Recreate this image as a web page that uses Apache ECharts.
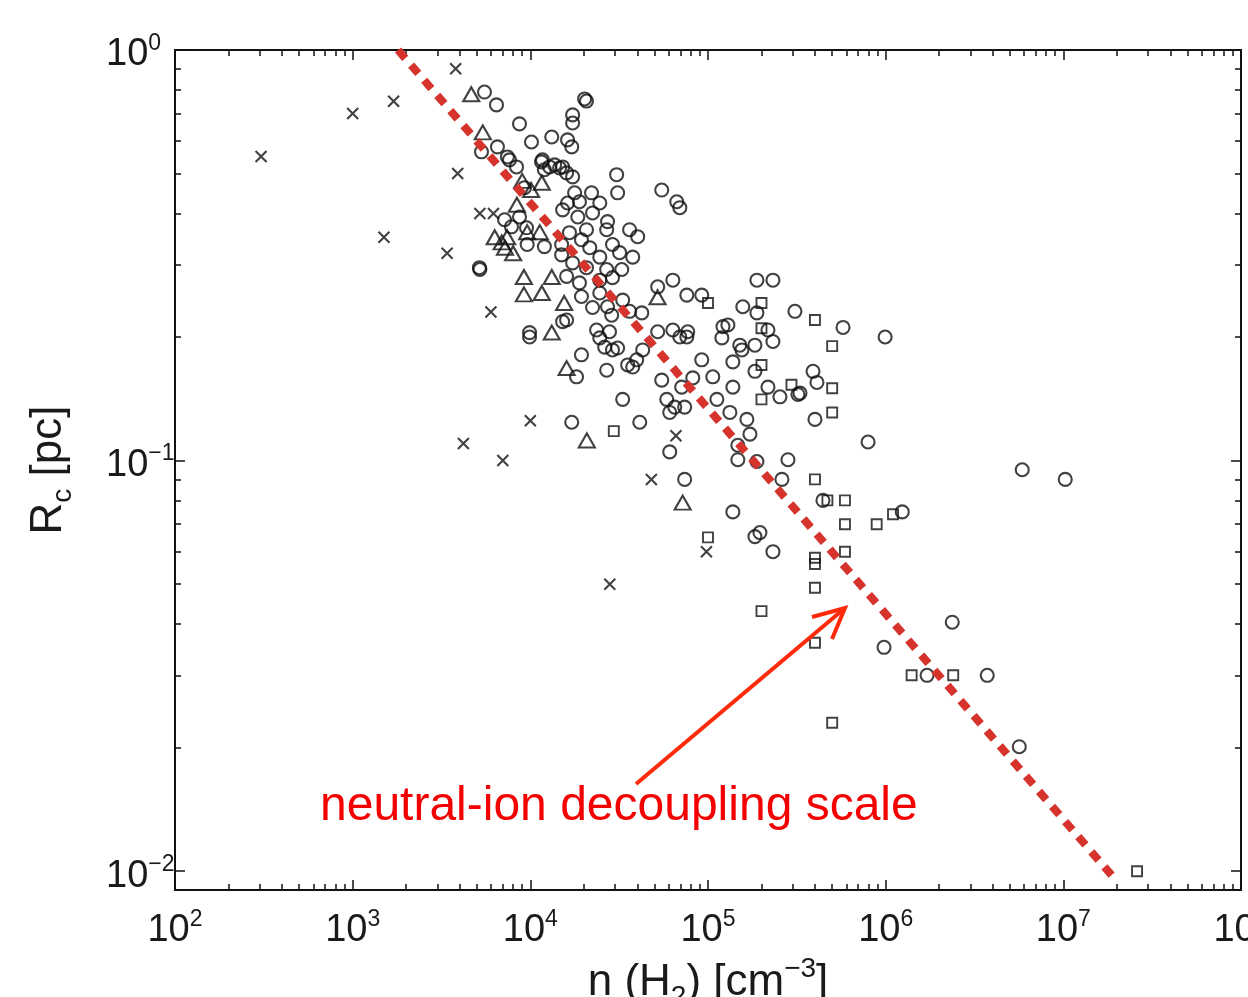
<!DOCTYPE html>
<html><head><meta charset="utf-8">
<script src="https://cdn.jsdelivr.net/npm/echarts@6.0.0/dist/echarts.min.js"></script>
<style>html,body{margin:0;padding:0;background:#fff}#c{width:1248px;height:997px}</style>
</head><body><div id="c"></div>
<script>
// ---- data (n(H2) [cm^-3], Rc [pc]) ----
const circles = [
[5520,0.790],[6450,0.735],[20200,0.760],[20700,0.751],[8690,0.661],[17300,0.695],[17300,0.664],
[10150,0.597],[13200,0.614],[16200,0.604],[17100,0.581],[5310,0.565],[6530,0.581],[7630,0.540],
[11700,0.540],[13700,0.525],[15200,0.519],[17300,0.491],[30600,0.497],[31000,0.449],[54900,0.456],
[66700,0.427],[69400,0.413],[17750,0.449],[22100,0.449],[24600,0.424],[16200,0.424],[18900,0.427],
[15200,0.408],[18500,0.392],[22400,0.401],[27200,0.382],[26900,0.365],[36200,0.365],[40200,0.351],
[29000,0.336],[20700,0.365],[16600,0.359],[19400,0.345],[15000,0.336],[9600,0.336],[12000,0.332],
[21600,0.330],[24600,0.313],[37700,0.313],[31800,0.321],[15000,0.317],[17300,0.303],[20700,0.295],
[26900,0.292],[32700,0.292],[16000,0.281],[18900,0.271],[24600,0.275],[29000,0.279],[19400,0.251],
[24600,0.256],[27200,0.237],[22400,0.236],[28700,0.226],[33100,0.246],[27900,0.206],[23600,0.208],
[9900,0.205],[16000,0.220],[36200,0.231],[42400,0.229],[52100,0.265],[63400,0.275],[76000,0.253],
[92200,0.253],[188500,0.275],[232000,0.275],[157000,0.237],[308500,0.231],[76900,0.206],[63400,0.208],
[52100,0.206],[5170,0.295],[5200,0.292],[9270,0.462],[8360,0.519],[7160,0.386],[7830,0.371],
[8690,0.392],[9520,0.369],[11560,0.534],[12830,0.519],[14610,0.516],[16000,0.502],[12000,0.511],
[7430,0.549],[9900,0.200],[15200,0.218],[19400,0.181],[18200,0.160],[24600,0.199],[26200,0.189],
[29000,0.186],[31000,0.188],[26900,0.166],[35300,0.171],[37700,0.169],[39700,0.176],[42900,0.186],
[54900,0.157],[58600,0.141],[60900,0.131],[65000,0.135],[71100,0.151],[73900,0.135],[69400,0.200],
[76000,0.200],[92200,0.176],[82100,0.159],[106400,0.160],[112200,0.141],[138000,0.151],[132800,0.131],
[165500,0.126],[172200,0.116],[147200,0.109],[147200,0.1005],[188500,0.0995],[281900,0.1005],
[260700,0.090],[138000,0.075],[183700,0.0653],[196000,0.0668],[232000,0.060],[73900,0.090],
[60900,0.105],[41300,0.124],[33100,0.141],[17100,0.124],[138000,0.174],[151000,0.191],[183700,0.191],
[155200,0.186],[188500,0.229],[121400,0.212],[129400,0.214],[119700,0.199],[217500,0.208],
[232000,0.195],[390000,0.165],[410400,0.155],[254000,0.143],[320700,0.145],[400000,0.126],
[575400,0.211],[183700,0.165],[217500,0.151],[993000,0.200],[329400,0.146],[796000,0.111],
[5870000,0.095],[10250000,0.090],[443600,0.080],[1240000,0.075],[2370000,0.0404],[979000,0.0351],
[3730000,0.030],[5650000,0.0201],[1710000,0.030]
];
const triangles = [
[4650,0.78],[5400,0.63],[11600,0.475],[10100,0.456],[6300,0.35],[7400,0.35],[7200,0.33],
[9600,0.36],[11300,0.36],[9200,0.28],[13200,0.28],[9200,0.254],[11600,0.256],[15500,0.242],
[13200,0.205],[16000,0.168],[20800,0.112],[72000,0.079],[52000,0.25],[8000,0.32],[6900,0.34],
[8400,0.42],[9000,0.48]
];
const squares = [
[200000,0.242],[200000,0.21],[400000,0.22],[500000,0.19],[200000,0.171],[200000,0.141],
[295000,0.153],[500000,0.15],[500000,0.131],[100000,0.242],[29500,0.118],[400000,0.09],
[590000,0.08],[470000,0.08],[590000,0.07],[890000,0.07],[1100000,0.074],[590000,0.06],
[400000,0.058],[400000,0.056],[400000,0.049],[200000,0.043],[400000,0.036],[100000,0.065],
[500000,0.023],[1400000,0.030],[2400000,0.030],[26000000,0.010]
];
const crosses = [
[305,0.55],[1000,0.70],[1700,0.75],[3800,0.90],[3900,0.50],[1500,0.35],[3400,0.32],[5200,0.40],
[6200,0.40],[6000,0.23],[4200,0.11],[7000,0.10],[10000,0.125],[28000,0.050],[48000,0.090],
[66000,0.115],[98000,0.060]
];
const decouplingLine = [[1800,1.0],[19000000,0.0097]];
const xMajor = [1e2,1e3,1e4,1e5,1e6,1e7,1e8];
const yMajor = [1,0.1,0.01];
const xMinor = [];
for (let d = 2; d < 8; d++) for (let k = 2; k < 10; k++) xMinor.push(k * Math.pow(10, d));
const yMinor = [];
for (let d = -2; d < 0; d++) for (let k = 2; k < 10; k++) yMinor.push(k * Math.pow(10, d));
const annotationText = 'neutral-ion decoupling scale';

// ---- styling ----
const FONT = 'Liberation Sans, Arial, sans-serif';
const INK = '#1a1a1a';
function powLabel(v) {
  const e = Math.round(Math.log10(v));
  return '{b|10}{s|' + (e < 0 ? '\u2212' + (-e) : e) + '}';
}
const tickRich = {
  b: {fontSize: 38, lineHeight: 46, padding: [10, 0, 0, 0], fontFamily: FONT, color: INK},
  s: {fontSize: 23, lineHeight: 18, padding: [5, 0, 0, 0], verticalAlign: 'top', fontFamily: FONT, color: INK}
};
const nameRich = {
  t: {fontSize: 44, lineHeight: 56, fontFamily: FONT, color: INK},
  sub: {fontSize: 28, lineHeight: 30, verticalAlign: 'bottom', fontFamily: FONT, color: INK},
  sup: {fontSize: 28, lineHeight: 24, verticalAlign: 'top', fontFamily: FONT, color: INK}
};
const lineSt = {color: '#111', width: 2};
const tickSt = {color: '#111', width: 1.5};
const grids = [0, 1].map(() => ({left: 175, top: 50, width: 1066, height: 840, outerBoundsMode: 'none', containLabel: false}));

function mkAxis(kind, grid, pos, major, showLabel, extra) {
  const isX = kind === 'x';
  const ax = {
    gridIndex: grid, type: 'log', logBase: 10, position: pos,
    min: isX ? 100 : 0.009, max: isX ? 1e8 : 1,
    axisLine: {show: major, lineStyle: lineSt},
    axisTick: {show: true, inside: true, length: major ? 10 : 6,
      customValues: major ? (isX ? xMajor : yMajor) : (isX ? xMinor : yMinor), lineStyle: tickSt},
    axisLabel: {show: showLabel},
    splitLine: {show: false}, minorTick: {show: false}, minorSplitLine: {show: false},
    silent: true
  };
  if (showLabel) {
    ax.axisLabel = isX
      ? {show: true, customValues: xMajor, formatter: powLabel, margin: 13, rich: tickRich}
      : {show: true, customValues: yMajor, formatter: powLabel, margin: 69, align: 'left', rich: tickRich};
  }
  return Object.assign(ax, extra || {});
}

const markStyle = {color: 'rgba(0,0,0,0)', borderColor: '#121212', borderWidth: 2.1};
const option = {
  animation: false,
  backgroundColor: '#ffffff',
  grid: grids,
  xAxis: [
    mkAxis('x', 0, 'bottom', true, true, {
      name: '{t|n (H}{sub|2}{t|) [cm}{sup|\u22123}{t|]}', nameLocation: 'middle', nameGap: 42,
      nameTextStyle: {rich: nameRich}
    }),
    mkAxis('x', 0, 'top', true, false),
    mkAxis('x', 1, 'bottom', false, false),
    mkAxis('x', 1, 'top', false, false)
  ],
  yAxis: [
    mkAxis('y', 0, 'left', true, true, {
      name: '{t|R}{sub|c}{t| [pc]}', nameLocation: 'middle', nameGap: 98, nameRotate: 90,
      nameTextStyle: {rich: nameRich}
    }),
    mkAxis('y', 0, 'right', true, false),
    mkAxis('y', 1, 'left', false, false),
    mkAxis('y', 1, 'right', false, false)
  ],
  series: [
    {type: 'scatter', name: 'circles', xAxisIndex: 0, yAxisIndex: 0, data: circles, symbol: 'circle', symbolSize: 13,
     itemStyle: markStyle, silent: true, z: 2},
    {type: 'scatter', name: 'triangles', xAxisIndex: 0, yAxisIndex: 0, data: triangles, symbol: 'triangle', symbolSize: [16, 14],
     itemStyle: markStyle, silent: true, z: 2},
    {type: 'scatter', name: 'squares', xAxisIndex: 0, yAxisIndex: 0, data: squares, symbol: 'rect', symbolSize: 10,
     itemStyle: {color: 'rgba(0,0,0,0)', borderColor: '#121212', borderWidth: 1.9}, silent: true, z: 2},
    {type: 'scatter', name: 'crosses', xAxisIndex: 0, yAxisIndex: 0, data: crosses, symbol: 'path://M0,0L10,10M10,0L0,10', symbolSize: 11,
     itemStyle: markStyle, silent: true, z: 2},
    {type: 'line', name: 'decoupling', xAxisIndex: 0, yAxisIndex: 0, data: decouplingLine, showSymbol: false, symbol: 'none',
     lineStyle: {color: '#d6332d', width: 8, type: [11, 9], cap: 'butt'}, silent: true, z: 5}
  ],
  graphic: [
    {type: 'text', z: 100, style: {x: 320, y: 807, text: annotationText, fill: '#f40000',
      font: '48px ' + FONT, verticalAlign: 'middle', align: 'left'}},
    {type: 'polyline', z: 100, shape: {points: [[636, 784], [845, 608]]}, style: {stroke: '#ff2a0a', lineWidth: 4, fill: null}},
    {type: 'polyline', z: 100, shape: {points: [[812, 617], [845, 608], [832, 639]]}, style: {stroke: '#ff2a0a', lineWidth: 4, fill: null, lineJoin: 'miter'}}
  ]
};
const chart = echarts.init(document.getElementById('c'), null, {renderer: 'canvas'});
chart.setOption(option);
</script></body></html>
